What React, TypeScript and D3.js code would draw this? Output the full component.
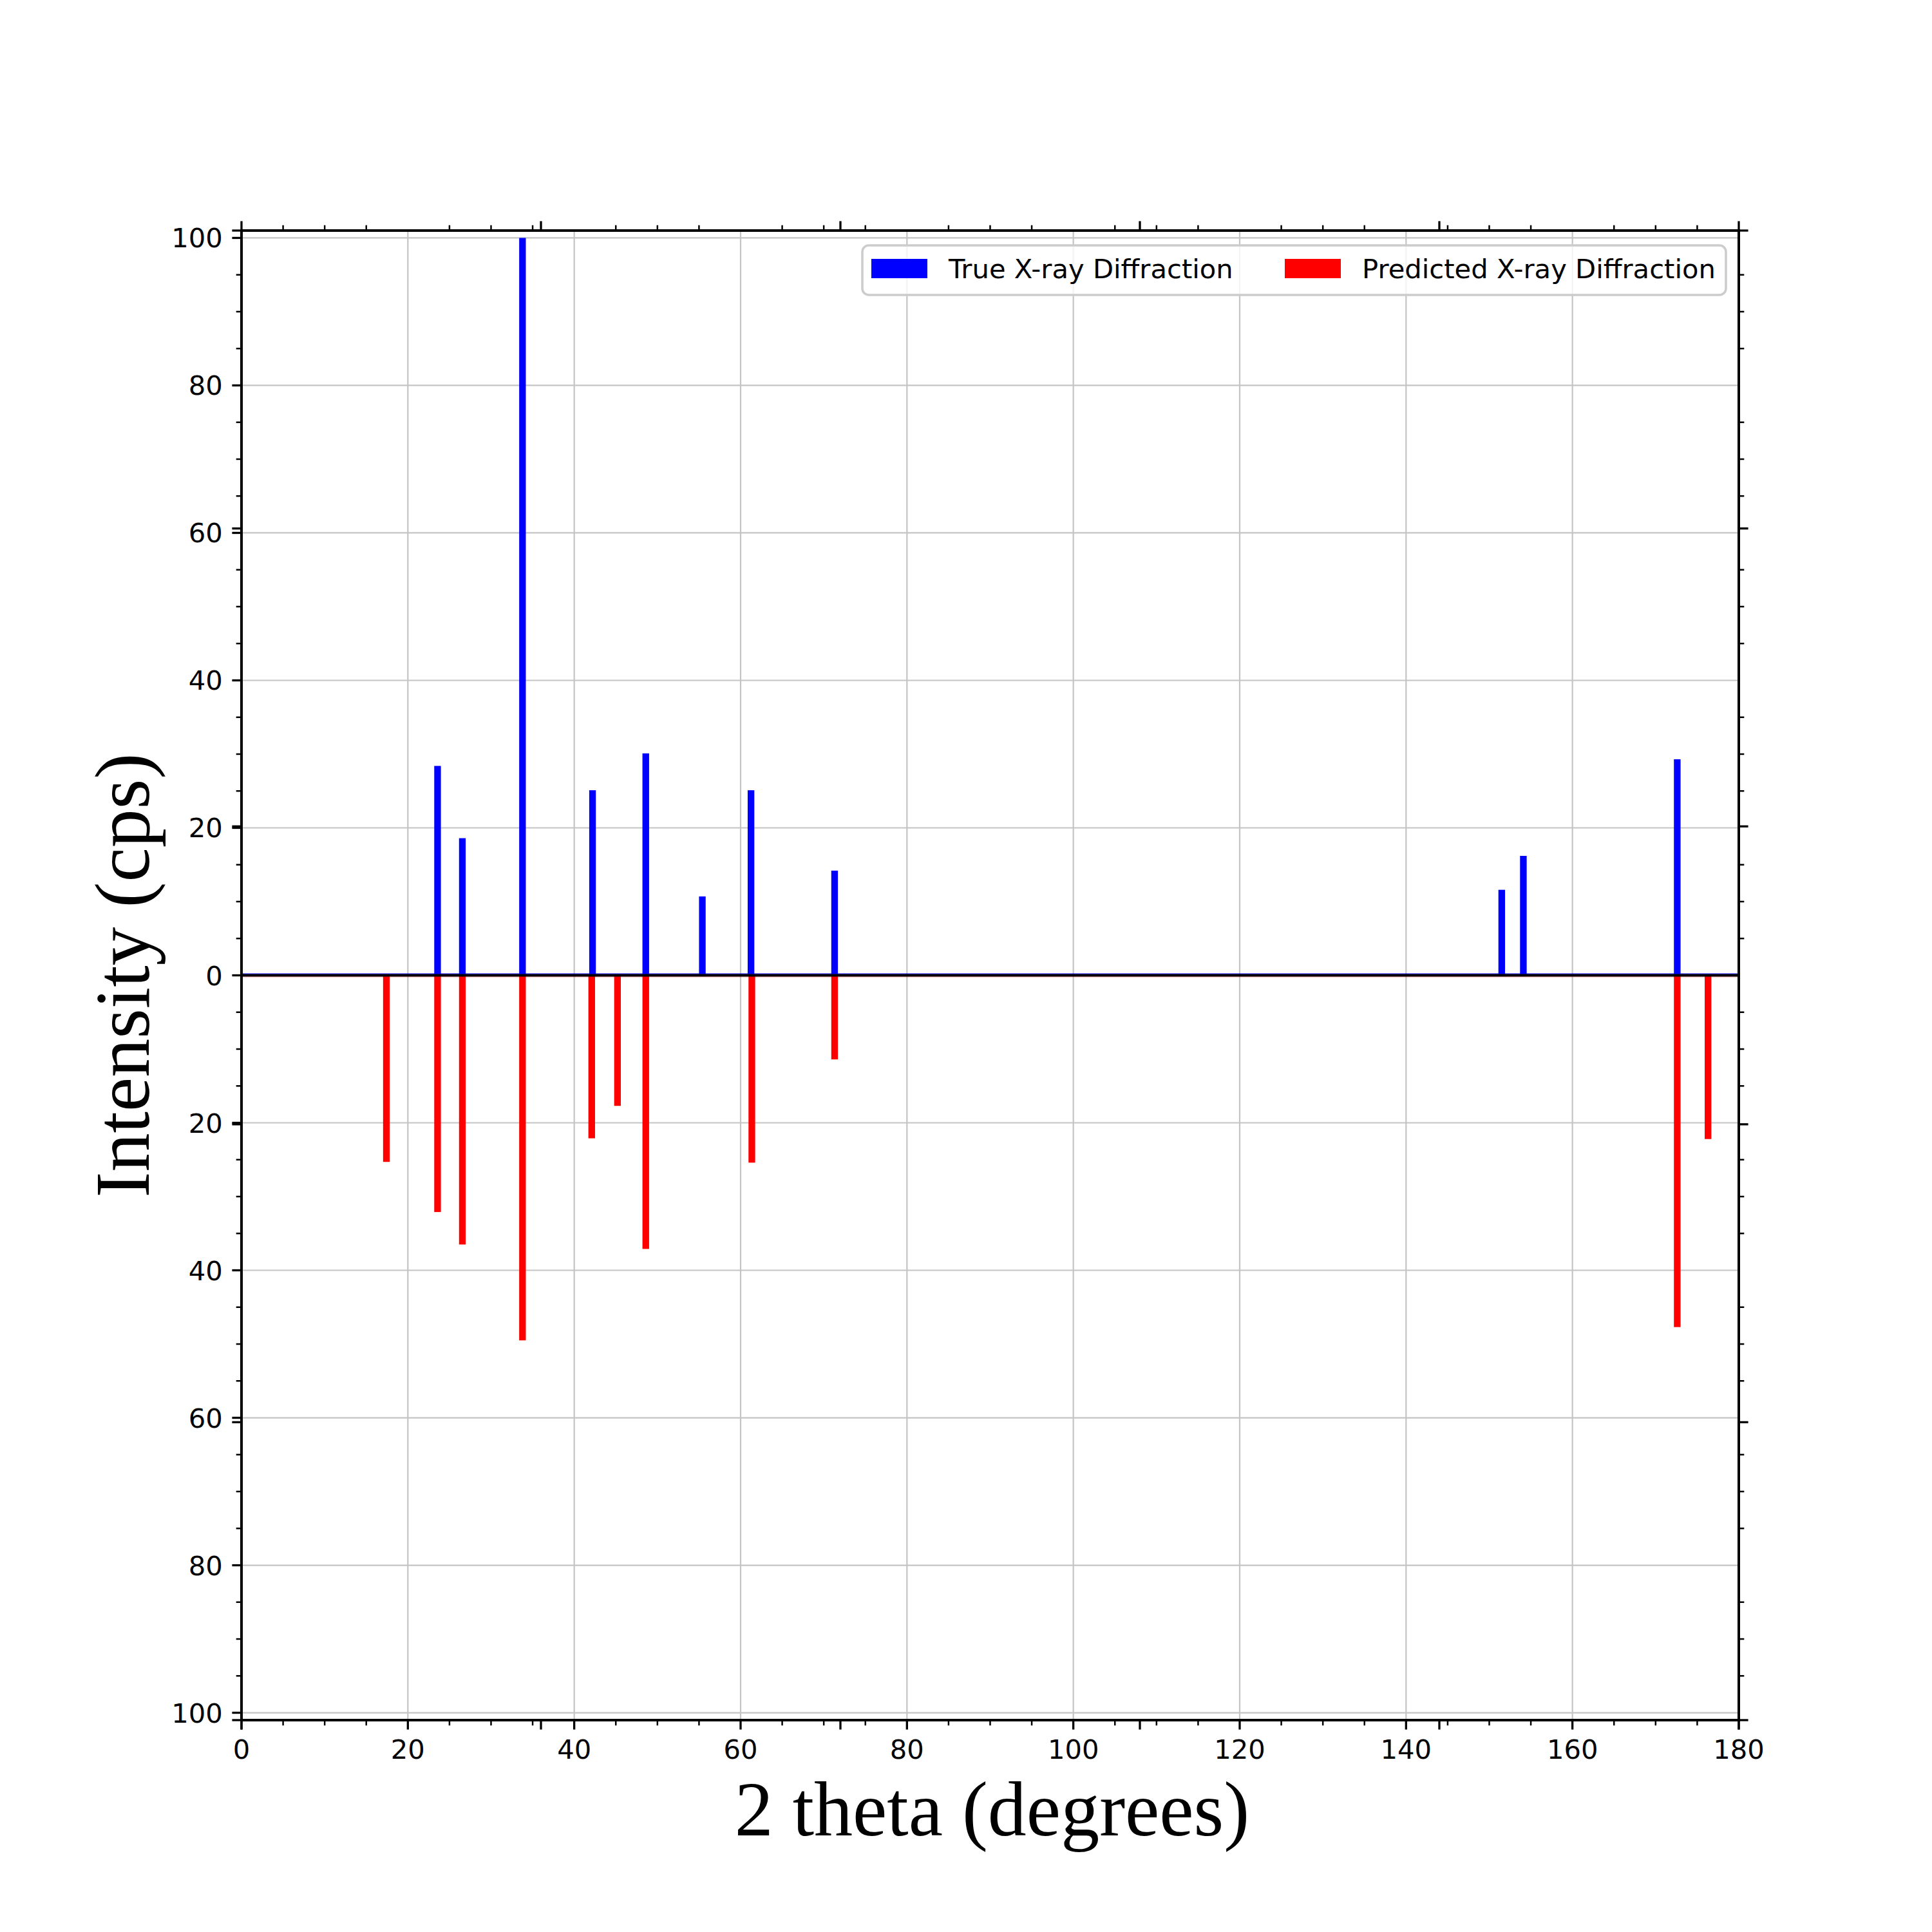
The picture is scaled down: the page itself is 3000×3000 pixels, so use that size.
import { range, scaleLinear } from "d3";

// peak positions (2 theta, degrees) and intensities
const trueAngles = [23.57, 26.55, 33.78, 42.2, 48.6, 55.4, 61.25, 71.3, 151.5, 154.1, 172.6];
const trueIntensities = [28.4, 18.6, 100, 25.1, 30.1, 10.7, 25.1, 14.2, 11.6, 16.2, 29.3];
const predictedAngles = [17.42, 23.57, 26.55, 33.78, 42.1, 45.2, 48.6, 61.35, 71.3, 172.6, 176.3];
const predictedIntensities = [25.3, 32.1, 36.5, 49.5, 22.1, 17.7, 37.1, 25.4, 11.4, 47.7, 22.2];

const seriesNames = ["True X-ray Diffraction", "Predicted X-ray Diffraction"];
const seriesColors = ["#0000ff", "#ff0000"];

const xDomain = [0, 180];
const yDomain = [-101, 101];
const twinTicks = [0, 0.2, 0.4, 0.6, 0.8, 1];

const width = 3000;
const height = 3000;
const left = 375;
const right = 2700;
const top = 358;
const bottom = 2671;

const barWidth = 0.8;
const majorLen = 14.6;
const minorLen = 8.3;
const tickFont = "'DejaVu Sans', sans-serif";
const labelFont = "'Liberation Serif', 'Times New Roman', serif";

export default function App(): React.JSX.Element {
  const x = scaleLinear().domain(xDomain).range([left, right]);
  const y = scaleLinear().domain(yDomain).range([bottom, top]);
  const xTwin = scaleLinear().domain([0, 1]).range([left, right]);
  const yTwin = scaleLinear().domain([0, 1]).range([bottom, top]);

  const xMajor = range(0, 181, 20);
  const xMinor = range(0, 181, 5).filter((v) => v % 20 !== 0);
  const yMajor = range(-100, 101, 20);
  const yMinor = range(-100, 101, 5).filter((v) => v % 20 !== 0);

  const y0 = y(0);
  const half = barWidth / 2;

  const legendX = 1339;
  const legendY = 381;
  const legendItems = [
    { handle: 1353, text: 1473 },
    { handle: 1995, text: 2115 }
  ];

  return (
    <svg
      width={width}
      height={height}
      viewBox={`0 0 ${width} ${height}`}
      style={{ position: "absolute", left: 0, top: 0, background: "#ffffff" }}
    >
      <rect x={0} y={0} width={width} height={height} fill="#ffffff" />

      {/* grid */}
      <g stroke="#c4c4c4" strokeWidth={2.2}>
        {xMajor.map((v) => (
          <line key={`gx${v}`} x1={x(v)} x2={x(v)} y1={top} y2={bottom} />
        ))}
        {yMajor.map((v) => (
          <line key={`gy${v}`} x1={left} x2={right} y1={y(v)} y2={y(v)} />
        ))}
      </g>

      {/* bars */}
      <g fill={seriesColors[0]}>
        {trueAngles.map((a, i) => (
          <rect
            key={`t${i}`}
            x={x(a - half)}
            width={x(a + half) - x(a - half)}
            y={y(trueIntensities[i])}
            height={y0 - y(trueIntensities[i])}
          />
        ))}
      </g>
      <g fill={seriesColors[1]}>
        {predictedAngles.map((a, i) => (
          <rect
            key={`p${i}`}
            x={x(a - half)}
            width={x(a + half) - x(a - half)}
            y={y0}
            height={y(-predictedIntensities[i]) - y0}
          />
        ))}
      </g>

      {/* zero line */}
      <line x1={left} x2={right} y1={y0 - 2.4} y2={y0 - 2.4} stroke={seriesColors[0]} strokeWidth={1.4} />
      <line x1={left} x2={right} y1={y0 + 2.4} y2={y0 + 2.4} stroke={seriesColors[1]} strokeWidth={0.8} opacity={0.5} />
      <line x1={left} x2={right} y1={y0} y2={y0} stroke="#000000" strokeWidth={4} />

      {/* ticks */}
      <g stroke="#000000">
        {xMajor.map((v) => (
          <line key={`xM${v}`} x1={x(v)} x2={x(v)} y1={bottom} y2={bottom + majorLen} strokeWidth={3.3} />
        ))}
        {xMinor.map((v) => (
          <g key={`xm${v}`} strokeWidth={2.5}>
            <line x1={x(v)} x2={x(v)} y1={bottom} y2={bottom + minorLen} />
            <line x1={x(v)} x2={x(v)} y1={top} y2={top - minorLen} />
          </g>
        ))}
        {yMajor.map((v) => (
          <line key={`yM${v}`} x1={left} x2={left - majorLen} y1={y(v)} y2={y(v)} strokeWidth={3.3} />
        ))}
        {yMinor.map((v) => (
          <g key={`ym${v}`} strokeWidth={2.5}>
            <line x1={left} x2={left - minorLen} y1={y(v)} y2={y(v)} />
            <line x1={right} x2={right + minorLen} y1={y(v)} y2={y(v)} />
          </g>
        ))}
        {twinTicks.map((t) => (
          <g key={`tw${t}`} strokeWidth={3.3}>
            <line x1={xTwin(t)} x2={xTwin(t)} y1={top} y2={top - majorLen} />
            <line x1={xTwin(t)} x2={xTwin(t)} y1={bottom} y2={bottom + majorLen} />
            <line x1={left} x2={left - majorLen} y1={yTwin(t)} y2={yTwin(t)} />
            <line x1={right} x2={right + majorLen} y1={yTwin(t)} y2={yTwin(t)} />
          </g>
        ))}
      </g>

      {/* spines */}
      <rect
        x={left}
        y={top}
        width={right - left}
        height={bottom - top}
        fill="none"
        stroke="#000000"
        strokeWidth={4}
      />

      {/* tick labels */}
      <g fontFamily={tickFont} fontSize={41.7} fill="#000000">
        {xMajor.map((v) => (
          <text key={`xl${v}`} x={x(v)} y={bottom + 2 * majorLen + 30.5} textAnchor="middle">
            {v}
          </text>
        ))}
        {yMajor.map((v) => (
          <text key={`yl${v}`} x={left - 2 * majorLen} y={y(v) + 15} textAnchor="end">
            {Math.abs(v)}
          </text>
        ))}
      </g>

      {/* axis labels */}
      <text
        x={(left + right) / 2 + 3}
        y={2850}
        textAnchor="middle"
        fontFamily={labelFont}
        fontSize={120}
        fill="#000000"
      >
        2 theta (degrees)
      </text>
      <text
        transform={`translate(231, ${(top + bottom) / 2}) rotate(-90)`}
        textAnchor="middle"
        fontFamily={labelFont}
        fontSize={120}
        fill="#000000"
      >
        Intensity (cps)
      </text>

      {/* legend */}
      <rect
        x={legendX}
        y={legendY}
        width={2680 - legendX}
        height={458 - legendY}
        rx={10}
        fill="#ffffff"
        fillOpacity={0.8}
        stroke="#cccccc"
        strokeWidth={3.5}
      />
      {seriesNames.map((name, i) => (
        <g key={name}>
          <rect x={legendItems[i].handle} y={402} width={87} height={30} fill={seriesColors[i]} />
          <text x={legendItems[i].text} y={432} fontFamily={tickFont} fontSize={41.7} fill="#000000">
            {name}
          </text>
        </g>
      ))}
    </svg>
  );
}
